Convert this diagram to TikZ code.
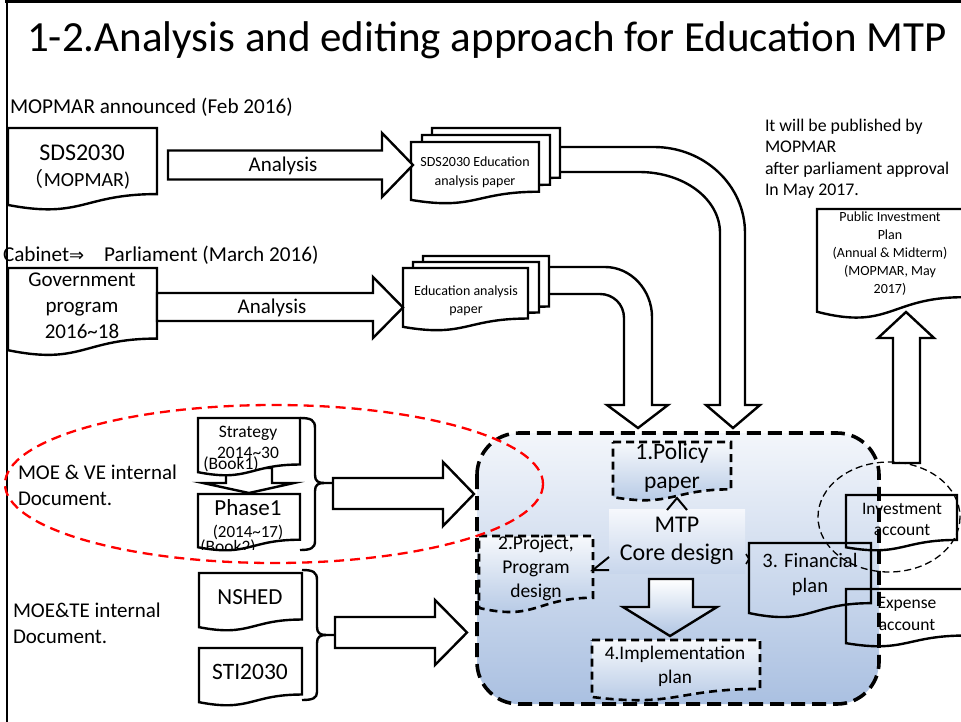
\documentclass[tikz,border=0pt]{standalone}
\usepackage{fontspec}
\setmainfont{Carlito}
\newfontfamily\cjk{Noto Sans CJK SC}
\newfontfamily\symf{DejaVu Sans}
\usetikzlibrary{calc,arrows.meta}
\definecolor{gtop}{RGB}{243,246,251}
\definecolor{gmid}{RGB}{200,214,236}
\definecolor{gbot}{RGB}{170,192,225}
\definecolor{btop}{RGB}{247,249,252}
\definecolor{bbot}{RGB}{176,197,227}
\definecolor{mtop}{RGB}{246,248,252}
\definecolor{mbot}{RGB}{200,214,236}
\newcommand\mkdoc[6]{%
  \pgfmathsetmacro\mkdw{#4-#2}%
  \pgfmathsetmacro\mkdcx{(#2+#4)/2}%
  \pgfmathsetmacro\mkdcy{#3+#5/2}%
  \node[docbox, minimum width=\mkdw pt, minimum height=#5pt] (#1) at (\mkdcx,\mkdcy) {};
  \draw[#6] (#1.north west) -- (#1.north east) -- ($(#1.north east)!0.802!(#1.south east)$)
    .. controls ($(#1.north)!0.802!(#1.south)$) and ($(#1.north)!1.107!(#1.south)$) ..
    ($(#1.north west)!0.934!(#1.south west)$) -- cycle;}
\begin{document}
\begin{tikzpicture}[x=1pt,y=-1pt,
  docbox/.style={rectangle,inner sep=0pt,outer sep=0pt,draw=none},
  docline/.style={draw=black,line width=2.4pt,fill=white},
  opendoc/.style={draw=black,line width=2.4pt},
  dashdoc/.style={draw=black,line width=2.6pt,dash pattern=on 8pt off 5pt,top color=btop,bottom color=bbot},
  barrow/.style={draw=black,line width=2.4pt,fill=white,line join=miter},
  txt/.style={inner sep=0pt,outer sep=0pt,align=center},
  thinlink/.style={draw=black,line width=2pt},
  ]
\clip (0,0) rectangle (961,722);
\fill[white] (0,0) rectangle (961,722);
% frame
\draw[line width=3pt] (5,2) -- (961,2);
\draw[line width=2.5pt] (7,0) -- (7,722);
% title
\node[txt,font={\fontsize{43}{50}\selectfont}] (title) at (487,40) {1-2.Analysis and editing approach for Education MTP};
% top-left captions
\node[txt,anchor=west,font={\fontsize{21.2}{25}\selectfont}] (cap1) at (10,107) {MOPMAR announced (Feb 2016)};
\node[txt,anchor=west,font={\fontsize{21.2}{25}\selectfont}] (cap2) at (3,255) {Cabinet{\symf\fontsize{18}{22}\selectfont ⇒}\hspace{20pt}Parliament (March 2016)};
% curved arrows (behind stacked docs)
\draw[barrow] (545,147) -- (654,147) .. controls (704,147) and (745,185) .. (745,233) -- (745,405) -- (760,405) -- (733,428) -- (706,405) -- (720,405) -- (720,233) .. controls (720,199) and (684,172) .. (639,172) -- (545,172) -- cycle;
\draw[barrow] (538,267) -- (605,267) .. controls (631,267) and (652,290) .. (652,317) -- (652,405) -- (668,405) -- (638,428) -- (607,405) -- (624,405) -- (624,318) .. controls (624,304) and (613,294) .. (600,294) -- (538,294) -- cycle;
% stacked docs 1
\mkdoc{sa3}{432}{128}{560}{62}{docline}
\mkdoc{sa2}{422}{135}{550}{62}{docline}
\mkdoc{sa1}{411}{142}{539}{62}{docline}
\node[txt,font={\fontsize{14}{19}\selectfont}] (sa1t) at (475,172) {SDS2030 Education\\analysis paper};
% stacked docs 2
\mkdoc{sb3}{423}{256}{549}{63}{docline}
\mkdoc{sb2}{413}{262}{539}{63}{docline}
\mkdoc{sb1}{403}{268}{528}{63}{docline}
\node[txt,font={\fontsize{14}{18}\selectfont}] (sb1t) at (466,301) {Education analysis\\paper};
% SDS2030 doc
\mkdoc{sds}{8}{128}{157}{82.4}{docline}
\node[txt,font={\fontsize{24}{28}\selectfont}] (sdst1) at (82,153) {SDS2030};
\node[txt,font={\fontsize{20}{24}\selectfont}] (sdst2) at (77,179) {{\cjk （}MOPMAR)};
% government doc
\mkdoc{gov}{8}{268}{157}{88}{docline}
\node[txt,font={\fontsize{21}{26}\selectfont}] (govt) at (82,306) {Government\\program\\2016\textasciitilde18};
% analysis arrows
\draw[barrow] (168,150.5) -- (382,150.5) -- (382,133) -- (413,165) -- (382,197) -- (382,179.5) -- (168,179.5) -- cycle;
\node[txt,font={\fontsize{21}{25}\selectfont}] (an1) at (283,166) {Analysis};
\draw[barrow] (157,293) -- (373,293) -- (373,277) -- (403,307.5) -- (373,338) -- (373,321) -- (157,321) -- cycle;
\node[txt,font={\fontsize{21}{25}\selectfont}] (an2) at (272,308) {Analysis};
% right top note
\node[txt,anchor=west,align=left,font={\fontsize{17.8}{21.5}\selectfont}] (note) at (765,159) {It will be published by\\MOPMAR\\after parliament approval\\In May 2017.};
% public investment plan
\mkdoc{pip}{817}{209}{963}{110}{docline}
\node[txt,font={\fontsize{14}{18}\selectfont}] (pipt) at (890,254) {Public Investment\\Plan\\(Annual \& Midterm)\\(MOPMAR, May\\2017)};
\draw[barrow] (893,463) -- (893,338) -- (878,338) -- (906,312) -- (934,338) -- (920,338) -- (920,463) -- cycle;
% container
\draw[line width=3.6pt,dash pattern=on 14pt off 7pt,rounded corners=42pt,top color=gtop,middle color=gmid,bottom color=gbot] (477,433) rectangle (879,704);
% MTP core box
\shade[top color=mtop,bottom color=mbot] (609,509) rectangle (745,573);
\node[txt,font={\fontsize{24}{28}\selectfont},minimum width=136pt,minimum height=64pt] (mtp) at (677,541) {MTP\\Core design};
% policy paper
\mkdoc{pol}{613}{442}{731}{59}{dashdoc}
\node[txt,font={\fontsize{23.5}{29}\selectfont}] (polt) at (672,468) {1.Policy\\paper};
% project
\mkdoc{proj}{479}{536}{593}{77}{dashdoc}
\node[txt,font={\fontsize{19.5}{24}\selectfont}] (projt) at (536,568) {2.Project,\\Program\\design};
% implementation
\mkdoc{impl}{592}{640}{760}{61}{dashdoc}
\node[txt,font={\fontsize{19.3}{24}\selectfont}] (implt) at (675,666) {4.Implementation\\plan};
% financial
\mkdoc{fin}{749}{543}{871}{75}{opendoc}
\node[txt,font={\fontsize{20.5}{25}\selectfont}] (fint) at (810,575) {3. Financial\\plan};
% arrows from MTP
\draw[barrow,top color=white,bottom color=bbot] (649,579) -- (649,607) -- (623,607) -- (670,636) -- (717,607) -- (693,607) -- (693,579) -- cycle;
\draw[thinlink] ([xshift=-10pt,yshift=-1pt]mtp.north) -- ([yshift=11pt]mtp.north) -- ([xshift=10pt,yshift=-1pt]mtp.north);
\draw[thinlink] ([yshift=16pt]mtp.south west) -- ([xshift=-16pt,yshift=3pt]mtp.south west) -- ([yshift=3pt]mtp.south west);
\draw[line width=1.6pt] ([xshift=1pt,yshift=-13pt]mtp.east) -- ([xshift=4pt,yshift=-18pt]mtp.east) -- ([xshift=1pt,yshift=-23pt]mtp.east);
% left internal docs
\draw[barrow] (226,468) -- (226,483) -- (203,483) -- (249,493) -- (294,483) -- (272,483) -- (272,468) -- cycle;
\mkdoc{str}{198}{418}{300}{58}{docline}
\node[txt,font={\fontsize{17.5}{21}\selectfont}] (strt) at (248,442) {Strategy\\2014\textasciitilde30};
\node[txt,font={\fontsize{17.5}{21}\selectfont}] (b1) at (231,464) {(Book1)};
\mkdoc{ph}{198}{494}{300}{57}{docline}
\node[txt,font={\fontsize{23}{27}\selectfont}] (pht) at (248,508) {Phase1};
\node[txt,font={\fontsize{17}{21}\selectfont}] (phy) at (248,532) {(2014\textasciitilde17)};
\begin{scope}
\clip (190,530) rectangle (300,549);
\node[txt,font={\fontsize{17.5}{21}\selectfont}] (b2) at (228,547) {(Book2)};
\end{scope}
\mkdoc{nsh}{199}{573}{302}{58}{docline}
\node[txt,font={\fontsize{23}{27}\selectfont}] (nsht) at (250,597) {NSHED};
\mkdoc{sti}{199}{648}{302}{58}{docline}
\node[txt,font={\fontsize{23.5}{27}\selectfont}] (stit) at (250,672) {STI2030};
% braces
\draw[line width=2.4pt] (300,418) .. controls (311,418) and (315,420) .. (315,428) -- (315,475) .. controls (315,481) and (318,483) .. (324,483) -- (334,483);
\draw[line width=2.4pt] (324,483) .. controls (318,483) and (315,485) .. (315,491) -- (315,541) .. controls (315,548) and (311,550) .. (300,550);
\draw[line width=2.4pt] (302,570) .. controls (313,570) and (317,572) .. (317,580) -- (317,627) .. controls (317,633) and (320,635) .. (326,635) -- (336,635);
\draw[line width=2.4pt] (326,635) .. controls (320,635) and (317,637) .. (317,643) -- (317,692) .. controls (317,698) and (313,700) .. (302,700);
% block arrows into container
\draw[barrow] (333,478) -- (443,478) -- (443,462) -- (474,494) -- (443,526) -- (443,509) -- (333,509) -- cycle;
\draw[barrow] (335,617) -- (435,617) -- (435,600) -- (467,632.5) -- (435,665) -- (435,648) -- (335,648) -- cycle;
% right accounts
\draw[line width=1.3pt,dash pattern=on 7pt off 4pt] (889,517) ellipse [x radius=71, y radius=55];
\mkdoc{inv}{846}{495}{957}{56}{opendoc}
\node[txt,font={\fontsize{17.5}{21}\selectfont}] (invt) at (902,519) {Investment\\account};
\mkdoc{exp}{846}{589}{966}{58}{opendoc}
\node[txt,font={\fontsize{17.5}{22}\selectfont}] (expt) at (907,614) {Expense\\account};
% red ellipse
\draw[red,line width=2.3pt,dash pattern=on 10pt off 6pt] (274,484) ellipse [x radius=269, y radius=79];
% left captions
\node[txt,anchor=west,align=left,font={\fontsize{21}{26}\selectfont}] (moe1) at (18,485) {MOE \& VE internal\\Document.};
\node[txt,anchor=west,align=left,font={\fontsize{21}{26}\selectfont}] (moe2) at (13,623) {MOE\&TE internal\\Document.};
\end{tikzpicture}
\end{document}
